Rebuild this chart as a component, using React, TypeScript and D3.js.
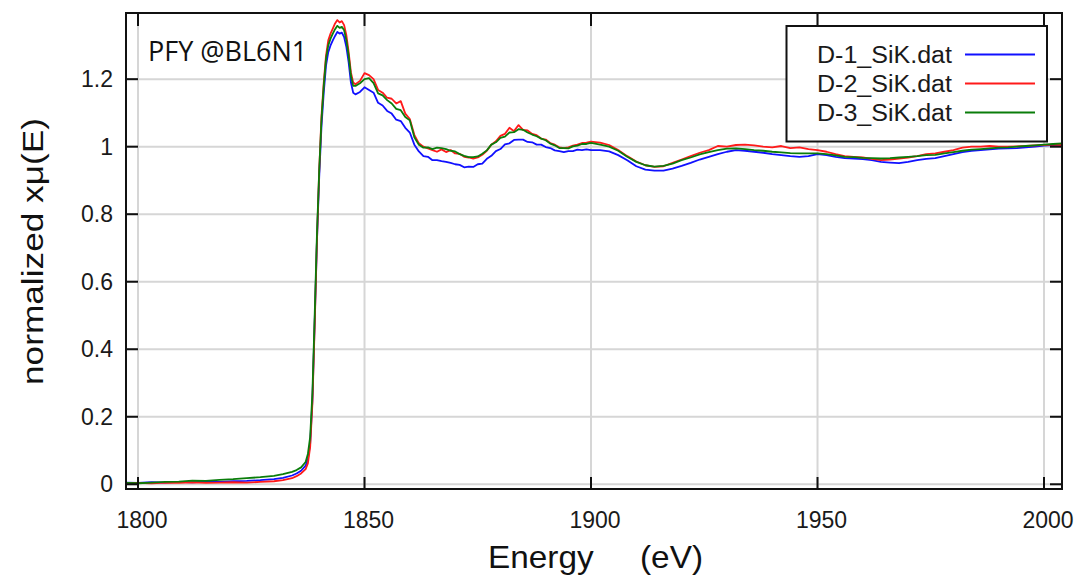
import * as d3 from 'd3';

// energy grid (eV), denser around the Si K edge
const energy = [
  1797, 1800, 1803, 1806, 1809, 1812, 1815, 1818, 1821, 1824, 1827, 1830,
  1832, 1834, 1835, 1836, 1837,
  1837.5, 1838, 1838.5, 1839, 1839.5, 1840, 1840.5, 1841, 1841.5, 1842, 1842.5,
  1843, 1843.5, 1844, 1844.5, 1845, 1845.5, 1846, 1846.5, 1847, 1847.5, 1848,
  1849, 1850, 1851, 1852, 1853, 1854, 1855, 1856, 1857, 1858, 1859, 1860, 1861,
  1862, 1863, 1864, 1865, 1866, 1867, 1868, 1869, 1870, 1871, 1872, 1873, 1874,
  1875, 1876, 1877, 1878, 1879, 1880, 1881, 1882, 1883, 1884, 1885, 1886, 1887,
  1888, 1889, 1890, 1891, 1892, 1893, 1894, 1895, 1896, 1897, 1898, 1899, 1900,
  1902, 1904, 1906, 1908, 1910, 1912, 1914, 1916, 1918, 1920, 1922, 1924, 1926,
  1928, 1930, 1932, 1934, 1936, 1938, 1940, 1942, 1944, 1946, 1948, 1950, 1952,
  1954, 1956, 1958, 1960, 1962, 1964, 1966, 1968, 1970, 1972, 1974, 1976, 1978,
  1980, 1982, 1984, 1986, 1988, 1990, 1992, 1994, 1996, 1998, 2000, 2002, 2004,
];

const d1 = [
  0.005, 0.004, 0.006, 0.005, 0.007, 0.006, 0.008, 0.007, 0.009, 0.010, 0.012, 0.015,
  0.019, 0.026, 0.032, 0.040, 0.055,
  0.075, 0.12, 0.25, 0.48, 0.72, 0.91, 1.06, 1.16, 1.24, 1.28, 1.30,
  1.315, 1.328, 1.34, 1.335, 1.338, 1.325, 1.295, 1.25, 1.19, 1.16, 1.155,
  1.162, 1.176, 1.168, 1.16, 1.13, 1.122, 1.106, 1.098, 1.08, 1.076, 1.056, 1.042, 1.006,
  0.986, 0.972, 0.97, 0.96, 0.96, 0.957, 0.955, 0.952, 0.948, 0.946, 0.939, 0.941, 0.94,
  0.948, 0.95, 0.964, 0.973, 0.987, 0.993, 1.007, 1.01, 1.02, 1.021, 1.021, 1.014, 1.013,
  1.006, 1.006, 0.999, 0.996, 0.989, 0.987, 0.984, 0.987, 0.987, 0.991, 0.99, 0.992, 0.99,
  0.990, 0.986, 0.975, 0.960, 0.942, 0.932, 0.929, 0.929, 0.935, 0.943, 0.952, 0.962, 0.970,
  0.978, 0.985, 0.990, 0.988, 0.985, 0.982, 0.978, 0.975, 0.972, 0.970, 0.972, 0.978, 0.975,
  0.970, 0.966, 0.965, 0.963, 0.960, 0.955, 0.953, 0.951, 0.955, 0.960, 0.964, 0.966, 0.972,
  0.978, 0.984, 0.988, 0.990, 0.992, 0.994, 0.995, 0.996, 0.998, 1.000, 1.003, 1.005, 1.006,
];

const d2 = [
  0.003, 0.004, 0.003, 0.005, 0.004, 0.006, 0.004, 0.005, 0.006, 0.005, 0.007, 0.009,
  0.012, 0.018, 0.024, 0.032, 0.045,
  0.062, 0.11, 0.24, 0.47, 0.72, 0.93, 1.09, 1.19, 1.27, 1.315, 1.335,
  1.35, 1.365, 1.375, 1.368, 1.372, 1.36, 1.33, 1.28, 1.22, 1.19, 1.185,
  1.195, 1.218, 1.212, 1.2, 1.168, 1.16, 1.145, 1.142, 1.128, 1.135, 1.098, 1.082, 1.035,
  1.01, 1.0, 0.995, 0.99, 0.985, 0.992, 0.984, 0.99, 0.98, 0.979, 0.97, 0.968, 0.965,
  0.968, 0.976, 0.988, 1.006, 1.016, 1.032, 1.038, 1.056, 1.046, 1.064, 1.05, 1.048, 1.038,
  1.034, 1.024, 1.021, 1.011, 1.006, 0.998, 0.996, 0.998, 1.003, 1.006, 1.011, 1.012, 1.015,
  1.012, 1.005, 0.99, 0.972, 0.956, 0.945, 0.94, 0.942, 0.952, 0.962, 0.972, 0.982, 0.99,
  1.002, 1.0, 1.005, 1.006, 1.004, 1.0, 0.998, 1.002, 0.996, 0.998, 0.993, 0.99, 0.985,
  0.978, 0.972, 0.97, 0.968, 0.964, 0.96, 0.962, 0.965, 0.968, 0.972, 0.978, 0.98, 0.985,
  0.99, 0.997, 1.0, 1.0, 1.002, 1.0, 1.0, 1.001, 1.002, 1.004, 1.005, 1.006, 1.005,
];

const d3s = [
  0.004, 0.003, 0.005, 0.007, 0.008, 0.011, 0.010, 0.013, 0.015, 0.018, 0.021, 0.025,
  0.030, 0.037, 0.042, 0.050, 0.066,
  0.09, 0.14, 0.27, 0.50, 0.74, 0.93, 1.08, 1.18, 1.26, 1.30, 1.32,
  1.335, 1.348, 1.358, 1.352, 1.355, 1.345, 1.315, 1.27, 1.21, 1.18, 1.18,
  1.188, 1.2, 1.203, 1.188, 1.158, 1.152, 1.138, 1.128, 1.112, 1.108, 1.088, 1.078, 1.028,
  1.006, 0.997, 0.998, 0.993, 0.997, 0.996, 0.993, 0.988, 0.986, 0.978, 0.973, 0.969, 0.969,
  0.971, 0.979, 0.989, 1.006, 1.013, 1.026, 1.03, 1.042, 1.043, 1.052, 1.05, 1.042, 1.036,
  1.031, 1.024, 1.019, 1.009, 1.004, 0.996, 0.996, 0.995, 1.001, 1.003, 1.008, 1.008, 1.011,
  1.006, 1.0, 0.988, 0.97, 0.955, 0.945, 0.941, 0.943, 0.95, 0.96, 0.968, 0.977, 0.984,
  0.99, 0.994, 0.995, 0.993, 0.99, 0.988, 0.985, 0.983, 0.981, 0.98, 0.98, 0.98, 0.978,
  0.974, 0.97, 0.969, 0.967, 0.966, 0.965, 0.966, 0.968, 0.97, 0.972, 0.975, 0.976, 0.98,
  0.984, 0.988, 0.991, 0.993, 0.995, 0.997, 0.998, 1.0, 1.002, 1.004, 1.006, 1.008, 1.01,
];

const seriesNames = ['D-1_SiK.dat', 'D-2_SiK.dat', 'D-3_SiK.dat'];
const seriesColors = ['#1010ff', '#ff1a1a', '#0a7d0a'];
const xTicks = [1800, 1850, 1900, 1950, 2000];
const yTicks = [0, 0.2, 0.4, 0.6, 0.8, 1, 1.2];
const yTickLabels = ['0', '0.2', '0.4', '0.6', '0.8', '1', '1.2'];

const sans = 'Liberation Sans, Arial, sans-serif';

export default function App() {
  const left = 126, right = 1062, top = 13, bottom = 489;
  const x = d3.scaleLinear().domain([1797.35, 2003.97]).range([left, right]);
  const y = d3.scaleLinear().domain([-0.014, 1.396]).range([bottom, top]);

  const line = d3.line<number>()
    .x((_, i) => x(energy[i]))
    .y(d => y(d));

  const series = [d1, d2, d3s];

  return (
    <svg width={1078} height={576} style={{ position: 'absolute', left: 0, top: 0, background: '#fff' }}>
      <defs>
        <clipPath id="plot">
          <rect x={left} y={top} width={right - left} height={bottom - top} />
        </clipPath>
      </defs>

      {/* grid */}
      {xTicks.map(t => (
        <line key={'gx' + t} x1={x(t)} x2={x(t)} y1={top} y2={bottom} stroke="#d6d6d6" strokeWidth={2} />
      ))}
      {yTicks.map(t => (
        <line key={'gy' + t} x1={left} x2={right} y1={y(t)} y2={y(t)} stroke="#d6d6d6" strokeWidth={2} />
      ))}

      {/* curves */}
      <g clipPath="url(#plot)">
        {series.map((s, i) => (
          <path key={i} d={line(s) || ''} fill="none" stroke={seriesColors[i]} strokeWidth={1.8} strokeLinejoin="round" />
        ))}
      </g>

      {/* ticks, inward on all four sides */}
      {xTicks.map(t => (
        <g key={'tx' + t} stroke="#111" strokeWidth={2}>
          <line x1={x(t)} x2={x(t)} y1={bottom} y2={bottom - 12} />
          <line x1={x(t)} x2={x(t)} y1={top} y2={top + 13} />
        </g>
      ))}
      {yTicks.map(t => (
        <g key={'ty' + t} stroke="#111" strokeWidth={2}>
          <line x1={left} x2={left + 12} y1={y(t)} y2={y(t)} />
          <line x1={right} x2={right - 12} y1={y(t)} y2={y(t)} />
        </g>
      ))}

      <rect x={left} y={top} width={right - left} height={bottom - top} fill="none" stroke="#111" strokeWidth={2} />

      {/* tick labels */}
      {xTicks.map(t => (
        <text key={'lx' + t} x={x(t) + 4} y={528} textAnchor="middle" fontFamily={sans} fontSize={23} fill="#1a1a1a">
          {t}
        </text>
      ))}
      {yTicks.map((t, i) => (
        <text key={'ly' + t} x={113} y={y(t) + 8} textAnchor="end" fontFamily={sans} fontSize={23} fill="#1a1a1a">
          {yTickLabels[i]}
        </text>
      ))}

      {/* axis titles */}
      <text x={488} y={568} fontFamily={sans} fontSize={32} fill="#111" textLength={215}
        lengthAdjust="spacingAndGlyphs" style={{ whiteSpace: 'pre' }}>
        {'Energy     (eV)'}
      </text>
      <text transform="translate(43,251.5) rotate(-90)" textAnchor="middle" fontFamily={sans} fontSize={30}
        fill="#111" textLength={267} lengthAdjust="spacingAndGlyphs">
        normalized xμ(E)
      </text>

      {/* annotation */}
      <text x={148} y={61} fontFamily="Open Sans, Noto Sans, sans-serif" fontSize={27} fill="#111">
        PFY @BL6N1
      </text>

      {/* legend */}
      <rect x={786.5} y={26} width={260.5} height={115.5} fill="#fff" stroke="#111" strokeWidth={2} />
      {seriesNames.map((name, i) => {
        const cy = [54.5, 83.5, 112.5][i];
        return (
          <g key={name}>
            <text x={817} y={cy + 8} fontFamily={sans} fontSize={23} fill="#1a1a1a" textLength={135}
              lengthAdjust="spacingAndGlyphs">
              {name}
            </text>
            <line x1={965} x2={1035} y1={cy} y2={cy} stroke={seriesColors[i]} strokeWidth={2} />
          </g>
        );
      })}
    </svg>
  );
}
